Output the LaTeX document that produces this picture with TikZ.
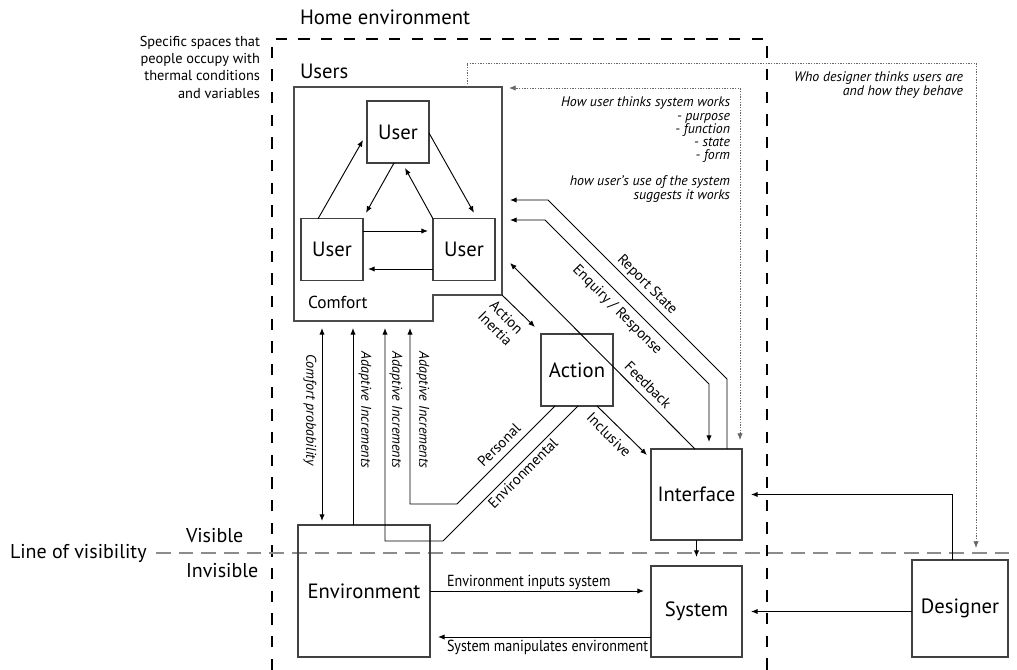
\documentclass[tikz,border=0pt]{standalone}
\usepackage{fontspec}
\setmainfont{PT Sans}
\newfontfamily\condfont[FakeStretch=0.88]{PT Sans}
\usetikzlibrary{arrows.meta,calc}
\begin{document}
\begin{tikzpicture}[x=0.75pt,y=-0.75pt,
  every node/.style={inner sep=0pt,outer sep=0pt},
  box/.style={draw=black!75,line width=0.9pt,inner sep=0pt,font=\fontsize{15.5}{18}\selectfont},
  conn/.style={draw=black,line width=0.7pt},
  tipend/.style={-{Latex[length=5pt,width=4pt]}},
  tipboth/.style={{Latex[length=5pt,width=4pt]}-{Latex[length=5pt,width=4pt]}},
  home/.style={draw=black,line width=1.4pt,dash pattern=on 8.5pt off 8.5pt},
  vis/.style={draw=black!45,line width=1.1pt,dash pattern=on 11pt off 6pt},
  note/.style={draw=black!60,line width=0.6pt,dash pattern=on 1pt off 1pt},
  title/.style={font=\fontsize{15}{18}\selectfont},
  head/.style={font=\fontsize{15.5}{18}\selectfont},
  side/.style={font=\fontsize{10.8}{13}\selectfont,align=right},
  diag/.style={font=\fontsize{11}{12}\selectfont},
  vert/.style={font=\fontsize{10.6}{12}\selectfont\itshape,rotate=-90},
  remark/.style={font=\fontsize{10.4}{9.9}\selectfont\itshape,align=right},
  flow/.style={font=\fontsize{12}{13}\condfont},
]
\useasboundingbox (0,0) rectangle (1017,670);

% home environment boundary and line of visibility
\draw[home] (272,670) -- (272,39) -- (767,39) -- (767,670);
\draw[vis] (156,553) -- (1017,553);

% headings
\node[head,anchor=west] (homeT) at (300,17) {Home environment};
\node[head,anchor=west] (usersT) at (300,71) {Users};
\node[side,anchor=north east] (spaces) at (260,36) {Specific spaces that\\people occupy with\\thermal conditions\\and variables};
\node[title,anchor=west] (lov) at (10,553) {Line of visibility};
\node[title,anchor=west] (visT) at (186,536) {Visible};
\node[title,anchor=west] (invT) at (186,571) {Invisible};

% users area
\draw[draw=black!70,line width=0.9pt] (294,87) -- (502,87) -- (502,295) -- (433,295) -- (433,321) -- (294,321) -- cycle;
\node[anchor=west,font=\fontsize{13}{15}\selectfont] (comfort) at (308,302) {Comfort};
\coordinate (uTop) at (467,87);
\coordinate (uCorner) at (502,295);
\coordinate (pCP) at (322,321);
\coordinate (pA1) at (353,321);
\coordinate (pA2) at (385,321);
\coordinate (pA3) at (410,321);
\coordinate (dotTip) at (509,88);
\coordinate (rsTip) at (510,200);
\coordinate (erTip) at (510,220);
\coordinate (fbTip) at (510,263);

% boxes
\node[box,minimum width=46.5pt,minimum height=46.5pt] (usrT) at (398,132) {User};
\node[box,minimum width=46.5pt,minimum height=46pt] (usrL) at (332,249.5) {User};
\node[box,minimum width=46.5pt,minimum height=46pt] (usrR) at (464,249.5) {User};
\node[box,minimum width=54pt,minimum height=54pt] (action) at (577,370) {Action};
\node[box,minimum width=68.25pt,minimum height=68.25pt] (interface) at (696.5,494.5) {Interface};
\node[box,minimum width=99pt,minimum height=99pt] (env) at (364,591) {Environment};
\node[box,minimum width=68.25pt,minimum height=68.25pt] (system) at (696.5,611.5) {System};
\node[box,minimum width=72pt,minimum height=72.75pt] (designer) at (960,608.5) {Designer};

% exchanges between users
\draw[conn,tipend] ($(usrL.north west)+(17,0)$) -- ($(usrT.west)+(-4,8)$);
\draw[conn,tipend] ($(usrT.south)+(-4,0)$) -- ($(usrL.north east)+(3,-6)$);
\draw[conn,tipend] (usrR.north west) -- ($(usrT.south)+(7,5)$);
\draw[conn,tipend] ($(usrT.east)+(0,1)$) -- ($(usrR.north)+(10,-6)$);
\draw[conn,tipend] ($(usrL.east)+(0,-18.5)$) -- ($(usrR.west)+(-5,-18.5)$);
\draw[conn,tipend] ($(usrR.west)+(0,19.5)$) -- ($(usrL.east)+(5,19.5)$);

% users and action
\draw[conn,tipend] (uCorner) -- ($(action.north west)+(-6,-7)$);
\node[diag,rotate=-45,align=center] (inertia) at (501,323) {Action\\Inertia};
\draw[conn,tipend] ($(action.south east)+(-16,0)$) -- ($(interface.north west)+(-4,6)$);
\node[diag,rotate=-45] (inclT) at (609,435) {Inclusive};
\draw[conn,tipend,shorten >=5.25pt] ($(action.south west)+(14,0)$) -- (457,504) -- (410,504) -- (pA3);
\node[diag,rotate=45] (persT) at (499,445) {Personal};
\draw[conn,tipend,shorten >=5.25pt] ($(action.south)+(1,0)$) -- (443,541) -- (385,541) -- (pA2);
\node[diag,rotate=45] (envlT) at (523,473) {Environmental};

% environment and users
\draw[conn,tipboth,shorten <=5.25pt,shorten >=3pt] (pCP) -- (env.north -| pCP);
\draw[conn,tipend,shorten >=5.25pt] (env.north -| pA1) -- (pA1);
\node[vert] (cpT) at (310,410) {Comfort probability};
\node[vert] (ai1) at (365,410) {Adaptive Increments};
\node[vert] (ai2) at (396,410) {Adaptive Increments};
\node[vert] (ai3) at (423,410) {Adaptive Increments};

% interface and users
\draw[conn,tipend] ($(interface.north)+(30.5,0)$) -- (727,379) -- (548,200) -- (rsTip);
\node[diag,rotate=-45] (rsT) at (647,285) {Report State};
\draw[conn,tipboth,shorten <=5.25pt] ($(interface.north)+(12.5,0)$) -- (709,384) -- (545,220) -- (erTip);
\node[diag,rotate=-45] (erT) at (617,310) {Enquiry / Response};
\draw[conn,tipend] ($(interface.north)+(-1.5,0)$) -- (fbTip);
\node[diag,rotate=-45] (fbT) at (648,385) {Feedback};

% mental models
\draw[note,tipboth] ($(interface.north)+(43.5,-9)$) -- (740,88) -- (dotTip);
\draw[note,tipend] (uTop) -- (467,63) -- (976,63) -- ($(designer.north)+(16,-12)$);
\node[remark,anchor=north east] (howT) at (730,97) {How user thinks system works\\- purpose\\- function\\- state\\- form};
\node[remark,anchor=north east] (useT) at (730,176) {how user's use of the system\\suggests it works};
\node[remark,anchor=north east] (whoT) at (963,72) {Who designer thinks users are\\and how they behave};

% invisible layer
\draw[conn,tipend,shorten >=6.75pt] (interface.south) -- (system.north);
\draw[conn,tipend,shorten >=5.25pt] (env.east) -- (env.east -| system.west);
\node[flow,anchor=west] (eisT) at (447,582) {Environment inputs system};
\draw[conn,tipend,shorten >=6pt] ($(system.west)+(0,25.5)$) -- ($(system.west -| env.east)+(0,25.5)$);
\node[flow,anchor=west] (smeT) at (447,647) {System manipulates environment};
\draw[conn,tipend,shorten >=6.75pt] (designer.west |- system.east) -- (system.east);
\draw[conn,tipend,shorten >=6.75pt] ($(designer.north)+(-8,0)$) |- (interface.east);
\end{tikzpicture}
\end{document}
